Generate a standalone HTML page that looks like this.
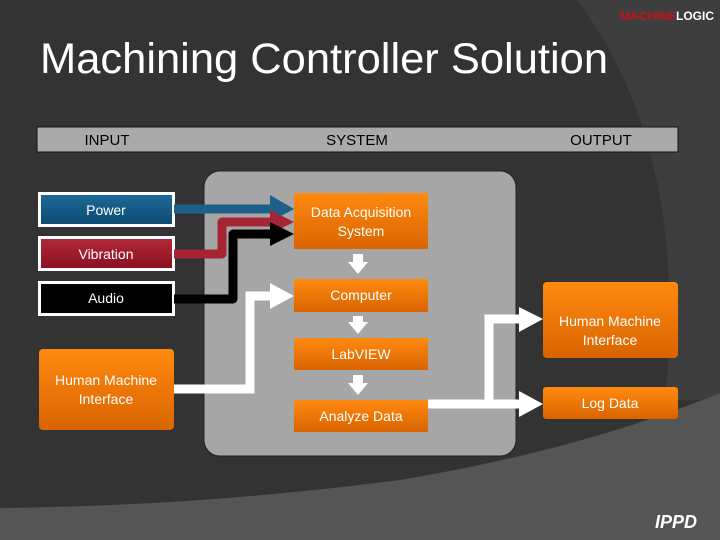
<!DOCTYPE html>
<html><head><style>html,body{margin:0;width:720px;height:540px;overflow:hidden;background:#333}svg{display:block}text{font-family:"Liberation Sans",sans-serif}</style></head><body>
<svg width="720" height="540" viewBox="0 0 720 540" xmlns="http://www.w3.org/2000/svg">
<defs>
<linearGradient id="og" x1="0" y1="0" x2="0" y2="1"><stop offset="0" stop-color="#ff8a10"/><stop offset="1" stop-color="#d96400"/></linearGradient>
<linearGradient id="bg" x1="0" y1="0" x2="0" y2="1"><stop offset="0" stop-color="#1d6a98"/><stop offset="1" stop-color="#0d4a70"/></linearGradient>
<linearGradient id="rg" x1="0" y1="0" x2="0" y2="1"><stop offset="0" stop-color="#b22a3a"/><stop offset="1" stop-color="#8a1020"/></linearGradient>
</defs>
<rect width="720" height="540" fill="#333"/>
<path d="M577 0 Q 690 150 665 400 L720 400 V0 Z" fill="#3e3e3e"/>
<path d="M0 540 V508 Q 200 506 400 480 Q 580 450 720 393 V540 Z" fill="#555"/>
<text x="40" y="73" font-size="43" fill="#fff" textLength="568" lengthAdjust="spacingAndGlyphs">Machining Controller Solution</text>
<text x="620" y="20" font-size="12" font-weight="bold" fill="#c0141c">MACHINE<tspan fill="#fff">LOGIC</tspan></text>
<text x="655" y="528" font-size="18" font-weight="bold" fill="#fff" font-style="italic">IPPD</text>
<rect x="37" y="127" width="641" height="25" fill="#aaa" stroke="#111"/>
<text x="107" y="145" font-size="15" text-anchor="middle">INPUT</text>
<text x="357" y="145" font-size="15" text-anchor="middle">SYSTEM</text>
<text x="601" y="145" font-size="15" text-anchor="middle">OUTPUT</text>
<rect x="204" y="171" width="312" height="285" rx="16" fill="#a6a6a6" stroke="#222"/>
<rect x="39.5" y="193.5" width="134" height="32" fill="url(#bg)" stroke="#fff" stroke-width="3"/>
<text x="106" y="215" font-size="14" fill="#fff" text-anchor="middle">Power</text>
<rect x="39.5" y="237.5" width="134" height="32" fill="url(#rg)" stroke="#fff" stroke-width="3"/>
<text x="106" y="259" font-size="14" fill="#fff" text-anchor="middle">Vibration</text>
<rect x="39.5" y="282.5" width="134" height="32" fill="#000" stroke="#fff" stroke-width="3"/>
<text x="106" y="303" font-size="14" fill="#fff" text-anchor="middle">Audio</text>
<rect x="39" y="349" width="135" height="81" rx="4" fill="url(#og)"/>
<text x="106" y="385" font-size="14" fill="#fff" text-anchor="middle">Human Machine</text>
<text x="106" y="404" font-size="14" fill="#fff" text-anchor="middle">Interface</text>
<path d="M174 209 H272" stroke="#1d5f88" stroke-width="9" fill="none"/>
<polygon points="270,195 294,209 270,222" fill="#1d5f88"/>
<path d="M174 254 H222 V222 H272" stroke="#a52535" stroke-width="9" fill="none" stroke-linejoin="round"/>
<polygon points="270,210 294,222 270,234" fill="#a52535"/>
<path d="M174 299 H233 V234 H272" stroke="#000" stroke-width="9" fill="none" stroke-linejoin="round"/>
<polygon points="270,222 294,234 270,246" fill="#000"/>
<path d="M174 389 H250 V296 H272" stroke="#fff" stroke-width="9" fill="none"/>
<polygon points="270,283 294,296 270,309" fill="#fff"/>
<rect x="294" y="193" width="134" height="56" fill="url(#og)"/>
<text x="361" y="217" font-size="14" fill="#fff" text-anchor="middle">Data Acquisition</text>
<text x="361" y="236" font-size="14" fill="#fff" text-anchor="middle">System</text>
<rect x="294" y="279" width="134" height="33" fill="url(#og)"/>
<text x="361" y="300" font-size="14" fill="#fff" text-anchor="middle">Computer</text>
<rect x="294" y="338" width="134" height="32" fill="url(#og)"/>
<text x="361" y="359" font-size="14" fill="#fff" text-anchor="middle">LabVIEW</text>
<rect x="294" y="400" width="134" height="32" fill="url(#og)"/>
<text x="361" y="421" font-size="14" fill="#fff" text-anchor="middle">Analyze Data</text>
<g fill="#fff">
<polygon points="353,254 363,254 363,262 368,262 358,274 348,262 353,262"/>
<polygon points="353,316 363,316 363,322 368,322 358,334 348,322 353,322"/>
<polygon points="353,375 363,375 363,383 368,383 358,395 348,383 353,383"/>
</g>
<path d="M428 404 H521 M489 404 V319 H521" stroke="#fff" stroke-width="9" fill="none"/>
<polygon points="519,391 543,404 519,417" fill="#fff"/>
<polygon points="519,307 543,319 519,332" fill="#fff"/>
<rect x="543" y="282" width="135" height="76" rx="4" fill="url(#og)"/>
<text x="610" y="326" font-size="14" fill="#fff" text-anchor="middle">Human Machine</text>
<text x="610" y="345" font-size="14" fill="#fff" text-anchor="middle">Interface</text>
<rect x="543" y="387" width="135" height="32" rx="3" fill="url(#og)"/>
<text x="610" y="408" font-size="14" fill="#fff" text-anchor="middle">Log Data</text>
</svg>
</body></html>
